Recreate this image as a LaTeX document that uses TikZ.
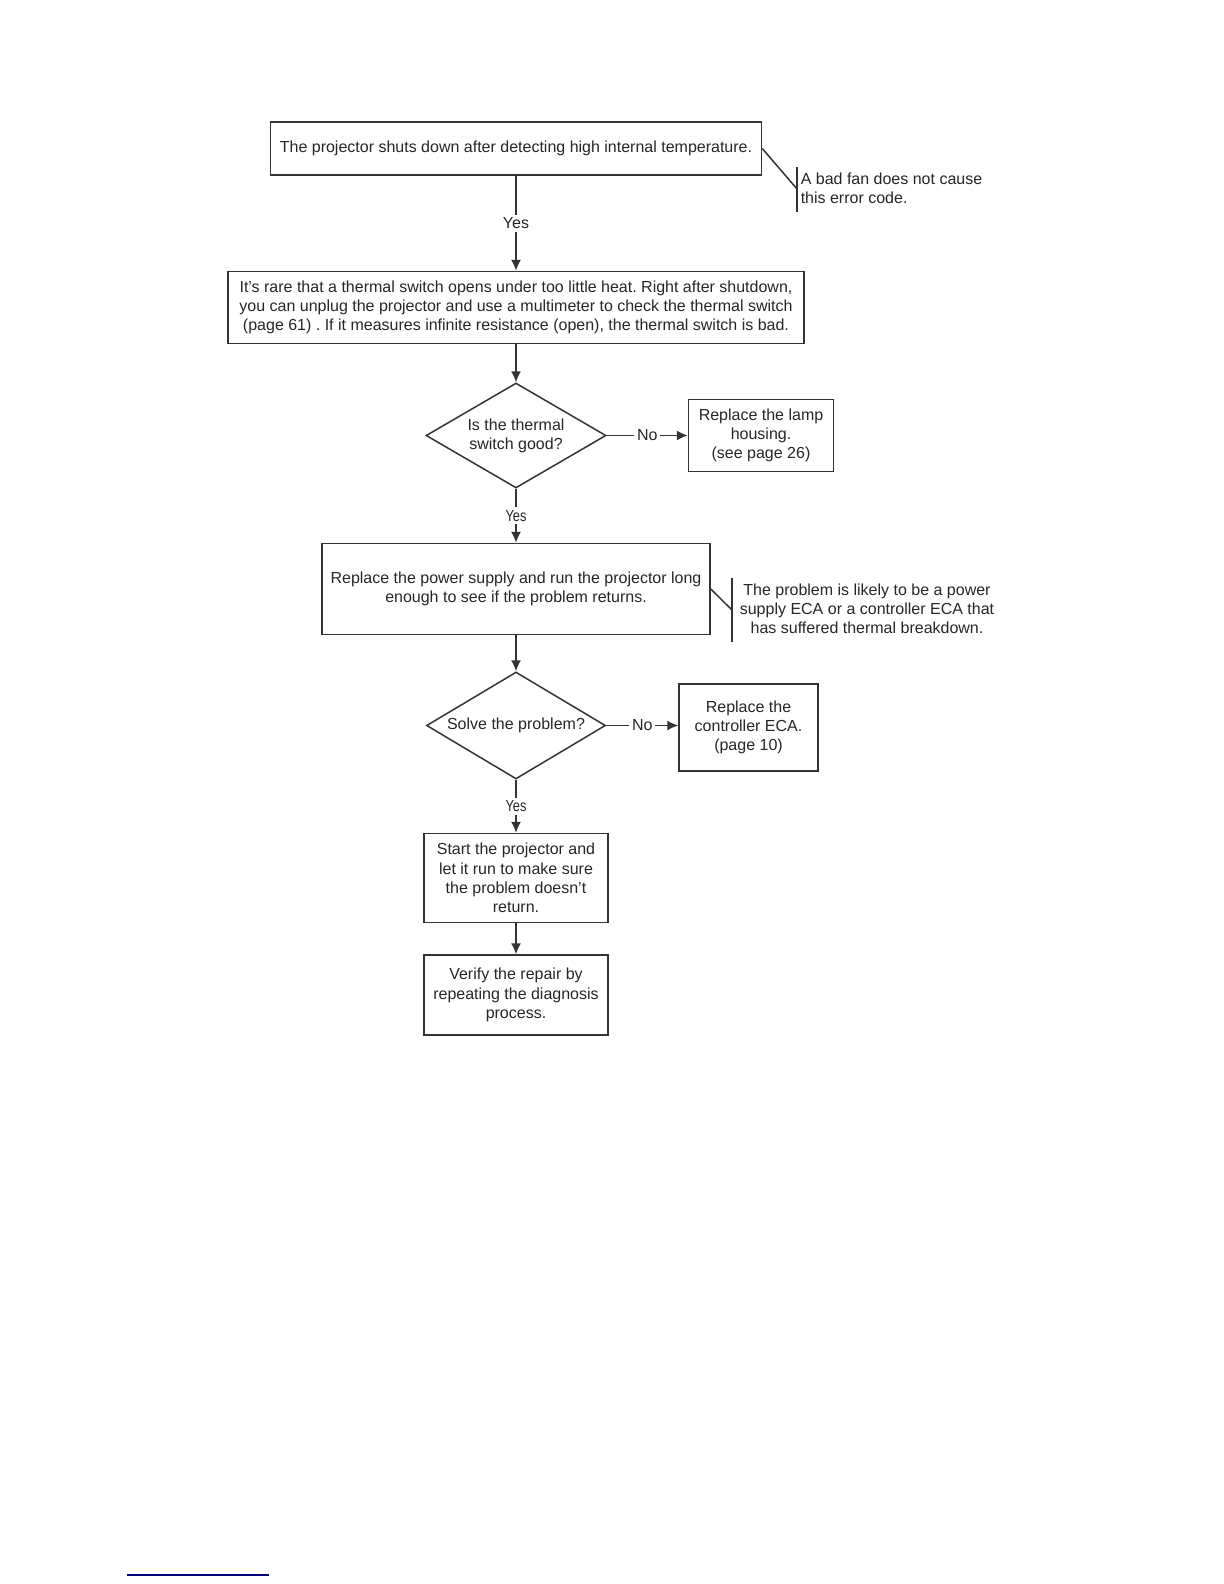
\documentclass[tikz,border=0pt]{standalone}
\usepackage{fontspec}
\setmainfont{Liberation Sans}
\usetikzlibrary{shapes.geometric, positioning, arrows.meta}
\frenchspacing

\begin{document}
\begin{tikzpicture}[x=1pt, y=1pt, line width=0.75pt, draw=black!80, text=black!85,
	font=\fontsize{8}{9.6}\selectfont, >={Latex[length=5.5pt,width=5pt]},
	box/.style = {draw, rectangle, align=center, inner sep=0pt},
	test/.style = {draw, diamond, align=center, inner sep=0pt},
	lab/.style = {fill=white, inner sep=1.5pt},
	note/.style = {align=center, inner sep=0pt}]
	\useasboundingbox (0,0) rectangle (612,-792);
	\node[box, minimum width=245.5pt, minimum height=26.5pt] (hot) at (258,-74.25) {The projector shuts down after detecting high internal temperature.};
	\node[box, minimum width=288pt, minimum height=36pt] (rare) [below=47.5pt of hot] {It's rare that a thermal switch opens under too little heat. Right after shutdown,\\you can unplug the projector and use a multimeter to check the thermal switch\\(page 61) . If it measures infinite resistance (open), the thermal switch is bad.};
	\node[test, minimum width=90pt, minimum height=52.5pt, aspect=1.71] (good) [below=19pt of rare] {Is the thermal\\switch good?};
	\node[box, minimum width=72.5pt, minimum height=36pt] (lamp) [right=40.5pt of good] {Replace the lamp\\housing.\\(see page 26)};
	\node[box, minimum width=194pt, minimum height=45.5pt] (power) [below=27pt of good] {Replace the power supply and run the projector long\\enough to see if the problem returns.};
	\node[test, minimum width=89.5pt, minimum height=53.5pt, aspect=1.67] (solve) [below=18pt of power] {Solve the problem?};
	\node[box, minimum width=69.5pt, minimum height=43.5pt] (ctrl) [right=36pt of solve, yshift=-1pt] {Replace the\\controller ECA.\\(page 10)};
	\node[box, minimum width=92pt, minimum height=44.5pt] (start) [below=26.5pt of solve] {Start the projector and\\let it run to make sure\\the problem doesn't\\return.};
	\node[box, minimum width=92pt, minimum height=40pt] (verify) [below=15.5pt of start] {Verify the repair by\\repeating the diagnosis\\process.};
	% side notes
	\node[note, anchor=west, align=left] (fan) at (400,-94.25) {A bad fan does not cause\\this error code.};
	\coordinate (fan top) at (398.5,-83.5);
	\coordinate (fan bot) at (398.5,-106);
	\coordinate (fan mid) at (398.5,-94.5);
	\node[note] (likely) at (433.5,-304.5) {The problem is likely to be a power\\supply ECA or a controller ECA that\\has suffered thermal breakdown.};
	\coordinate (likely top) at (366,-289);
	\coordinate (likely bot) at (366,-321);
	\coordinate (likely mid) at (366,-305);
	\draw[->] (hot) -- node[lab] {Yes} (rare);
	\draw[->] (rare) -- (good);
	\draw[->] (good) -- node[lab] {No} (lamp);
	\draw[->] (good) -- node[lab] {\scalebox{0.8}[1]{Yes}} (power);
	\draw[->] (power) -- (solve);
	\draw[->] (solve.east) -- node[lab] {No} (solve.east -| ctrl.west);
	\draw[->] (solve) -- node[lab] {\scalebox{0.8}[1]{Yes}} (start);
	\draw[->] (start) -- (verify);
	\draw (fan top) -- (fan bot);
	\draw (hot.east) -- (fan mid);
	\draw (likely top) -- (likely bot);
	\draw (power.east) -- (likely mid);
	\coordinate (rule start) at (63.5,-787.5);
	\coordinate (rule end) at (134.5,-787.5);
	\draw[blue!50!black, line width=0.6pt] (rule start) -- (rule end);
\end{tikzpicture}
\end{document}
